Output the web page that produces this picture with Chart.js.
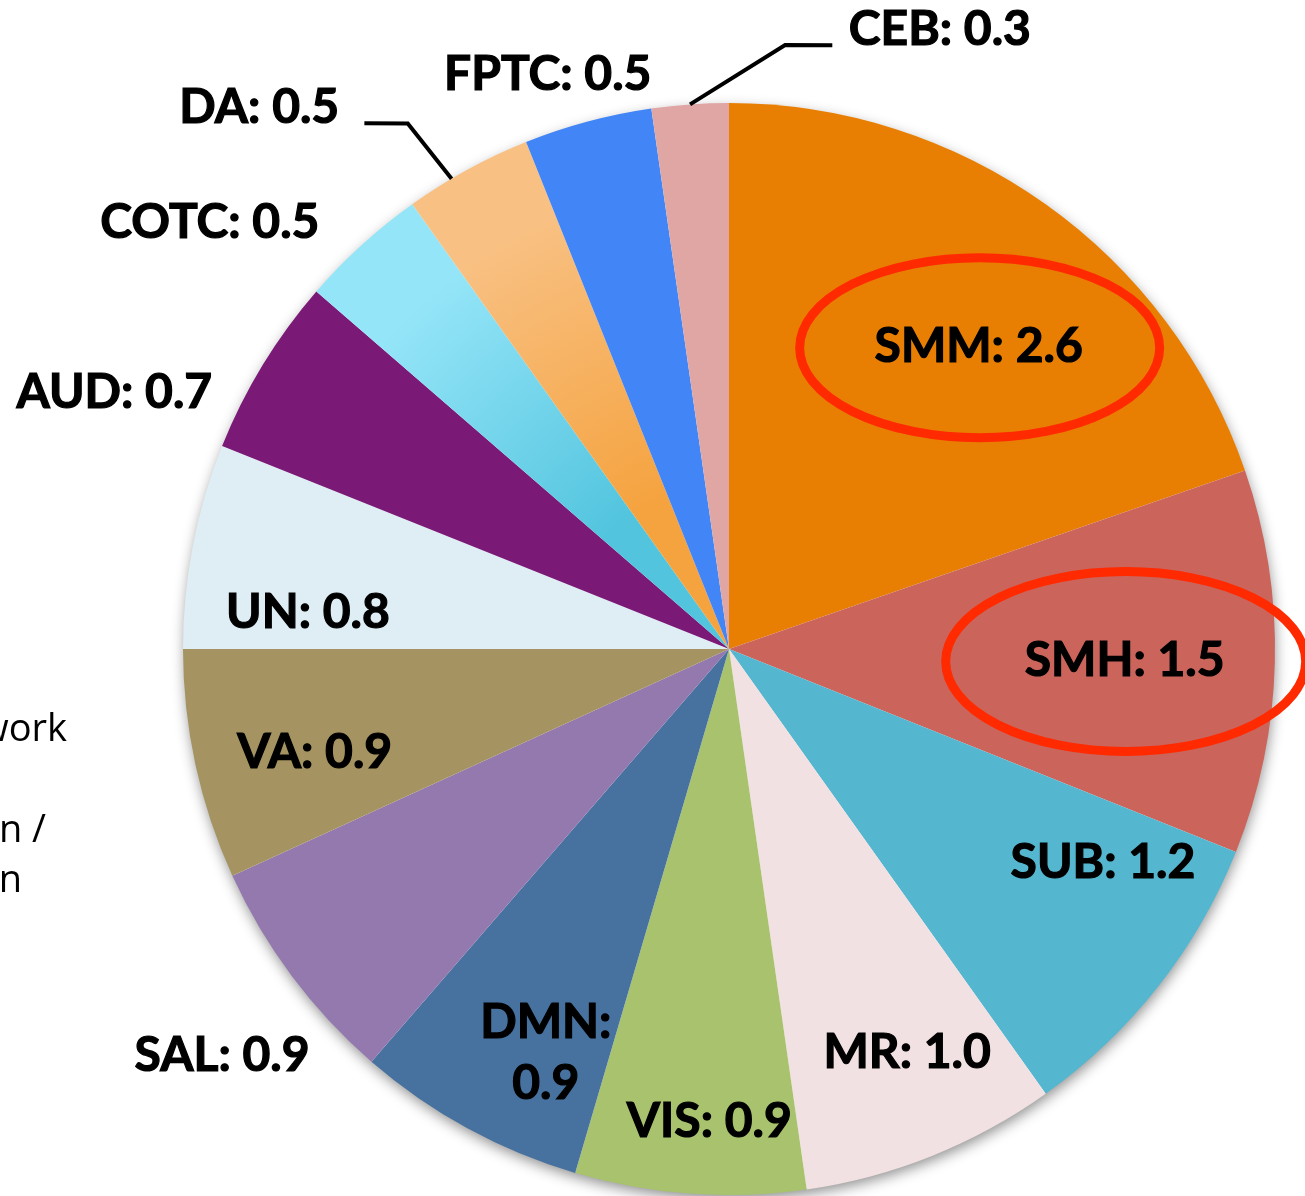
<!DOCTYPE html>
<html>
<head>
<meta charset="utf-8">
<script src="https://cdn.jsdelivr.net/npm/chart.js@4.4.0/dist/chart.umd.min.js"></script>
<style>
  html, body { margin: 0; padding: 0; background: #ffffff; overflow: hidden; }
  #wrap { position: relative; width: 1305px; height: 1196px; }
  canvas { display: block; }
</style>
</head>
<body>
<div id="wrap"><canvas id="c" width="1305" height="1196"></canvas></div>
<script>
// ---- data ----
const categories = ['SMM','SMH','SUB','MR','VIS','DMN','SAL','VA','UN','AUD','COTC','DA','FPTC','CEB'];
const values     = [2.6, 1.5, 1.2, 1.0, 0.9, 0.9, 0.9, 0.9, 0.8, 0.7, 0.5, 0.5, 0.5, 0.3];
const valueLabels = ['2.6','1.5','1.2','1.0','0.9','0.9','0.9','0.9','0.8','0.7','0.5','0.5','0.5','0.3'];
const highlighted = ['SMM','SMH'];
const sideTexts = ['work', 'n /', 'n'];

// ---- styles ----
const colors = ['#E97F02','#CB655C','#55B6CF','#F2E1E2','#A8C26D','#47729F','#9479AF','#A59461','#DFEEF5','#7A1A76','COTC','DA','#4285F6','#E0A6A4'];
const gradients = { COTC: ['#52C4DE', '#95E5F8'], DA: ['#F5A33F', '#F8C082'] };
// label placement: [angle shift from slice mid (deg), radius factor, two-line]
const labelPlace = {
  SMM:[4.1,0.718], SMH:[0.3,0.725], SUB:[-8.4,0.789], MR:[-2,0.808], VIS:[-1.7,0.867],
  DMN:[-4.2,0.811,true], SAL:[-1.9,1.19], VA:[-1.7,0.782], UN:[-6,0.774], AUD:[-8.7,1.22],
  COTC:[-8.3,1.231], DA:[-12.3,1.313], FPTC:[-2.5,1.104], CEB:[22.9,1.198]
};
// leader lines: list of [angle shift from slice mid (deg), radius factor]
const leaders = {
  CEB: [[0,1.0],[9.4,1.111],[13.8,1.122]],
  DA:  [[-1.9,1.0],[-2.8,1.128],[-6.1,1.172]]
};

const labelFont = 'bold 48px Lato, "Open Sans", sans-serif';

function polar(arc, shiftDeg, rf) {
  const mid = (arc.startAngle + arc.endAngle) / 2 + shiftDeg * Math.PI / 180;
  const r = arc.outerRadius * rf;
  return { x: arc.x + Math.cos(mid) * r, y: arc.y + Math.sin(mid) * r };
}

const shadowPlugin = {
  id: 'shadow',
  beforeDatasetsDraw(chart) {
    const arc = chart.getDatasetMeta(0).data[0];
    if (!arc) return;
    const ctx = chart.ctx;
    ctx.save();
    ctx.beginPath();
    ctx.arc(arc.x, arc.y, arc.outerRadius - 1, 0, Math.PI * 2);
    ctx.fillStyle = '#ffffff';
    ctx.shadowColor = 'rgba(0,0,0,0.45)';
    ctx.shadowBlur = 14;
    ctx.shadowOffsetX = 1;
    ctx.shadowOffsetY = 5;
    ctx.fill();
    ctx.restore();
  }
};

const labelPlugin = {
  id: 'labels',
  afterDatasetsDraw(chart) {
    const ctx = chart.ctx;
    const arcs = chart.getDatasetMeta(0).data;
    ctx.save();
    // leader lines
    ctx.strokeStyle = '#000';
    ctx.lineWidth = 4;
    ctx.lineJoin = 'miter';
    Object.keys(leaders).forEach(k => {
      const arc = arcs[categories.indexOf(k)];
      ctx.beginPath();
      leaders[k].forEach((p, i) => {
        const q = polar(arc, p[0], p[1]);
        if (i === 0) ctx.moveTo(q.x, q.y); else ctx.lineTo(q.x, q.y);
      });
      ctx.stroke();
    });
    // labels
    ctx.font = labelFont;
    ctx.fillStyle = '#000';
    ctx.strokeStyle = '#000';
    ctx.lineWidth = 1.2;
    ctx.textAlign = 'center';
    ctx.textBaseline = 'middle';
    const draw = (t, x, y) => { ctx.fillText(t, x, y); ctx.strokeText(t, x, y); };
    categories.forEach((c, i) => {
      const arc = arcs[i];
      const pl = labelPlace[c];
      const p = polar(arc, pl[0], pl[1]);
      if (pl[2]) {
        draw(c + ':', p.x, p.y - 30);
        draw(valueLabels[i], p.x, p.y + 31);
      } else {
        draw(c + ': ' + valueLabels[i], p.x, p.y);
      }
      if (highlighted.includes(c)) {
        ctx.save();
        ctx.strokeStyle = '#FF2A00';
        ctx.lineWidth = 9;
        ctx.beginPath();
        ctx.ellipse(p.x + 1, p.y + 1, 180, 90, 0, 0, Math.PI * 2);
        ctx.stroke();
        ctx.restore();
      }
    });
    // partial side texts (cut off at the left edge)
    ctx.font = '38px "Open Sans", sans-serif';
    ctx.textAlign = 'right';
    ctx.textBaseline = 'alphabetic';
    ctx.fillText(sideTexts[0], 67, 741);
    ctx.fillText(sideTexts[1], 46, 842);
    ctx.fillText(sideTexts[2], 22, 892);
    ctx.restore();
  }
};

function sliceColor(ctx) {
  const c = colors[ctx.dataIndex];
  if (!gradients[c]) return c;
  const chart = ctx.chart;
  const a = chart.chartArea;
  if (!a) return gradients[c][0];
  const cx = (a.left + a.right) / 2, cy = (a.top + a.bottom) / 2;
  const r = Math.min(a.right - a.left, a.bottom - a.top) / 2;
  const g = chart.ctx.createRadialGradient(cx, cy, 0, cx, cy, r);
  g.addColorStop(0, gradients[c][0]);
  g.addColorStop(0.3, gradients[c][0]);
  g.addColorStop(0.85, gradients[c][1]);
  g.addColorStop(1, gradients[c][1]);
  return g;
}

new Chart(document.getElementById('c'), {
  type: 'pie',
  data: {
    labels: categories,
    datasets: [{
      data: values,
      backgroundColor: sliceColor,
      borderWidth: 0
    }]
  },
  options: {
    responsive: false,
    animation: false,
    layout: { padding: { left: 183, right: 30, top: 103, bottom: 1 } },
    plugins: { legend: { display: false }, tooltip: { enabled: false } }
  },
  plugins: [shadowPlugin, labelPlugin]
});
</script>
</body>
</html>
